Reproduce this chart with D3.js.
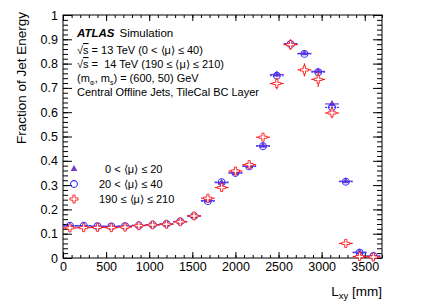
<!DOCTYPE html>
<html>
<head>
    <title>Fraction of Jet Energy vs Lxy</title>
    <script src="https://d3js.org/d3.v7.min.js"></script>
    <style>
        body { margin: 0; background: white; }
        svg text { font-family: "Liberation Sans", Arial, Helvetica, sans-serif; white-space: pre; }
    </style>
</head>
<body>
    <svg id="chart" width="425" height="305"></svg>

    <script>
        // bin centres in mm (bins are 160 mm wide)
        const binCenters = [80, 240, 400, 560, 720, 880, 1040, 1200, 1360, 1520, 1680, 1840,
                            2000, 2160, 2320, 2480, 2640, 2800, 2960, 3120, 3280, 3440, 3600];
        const binHalfWidth = 80;

        // 0 < <mu> <= 20
        const mu0to20 = [0.132, 0.132, 0.130, 0.130, 0.131, 0.134, 0.137, 0.140, 0.150, 0.173, 0.236, 0.310,
                         0.350, 0.378, 0.462, 0.755, 0.882, 0.842, 0.768, 0.634, 0.316, 0.024, 0.008];
        // 20 < <mu> <= 40
        const mu20to40 = [0.133, 0.133, 0.131, 0.130, 0.131, 0.134, 0.137, 0.140, 0.150, 0.173, 0.234, 0.312,
                          0.350, 0.377, 0.460, 0.750, 0.880, 0.840, 0.765, 0.620, 0.314, 0.022, 0.008];
        // 190 <= <mu> <= 210
        const mu190to210 = [0.124, 0.125, 0.126, 0.125, 0.127, 0.133, 0.136, 0.139, 0.149, 0.173, 0.246, 0.290,
                            0.358, 0.384, 0.497, 0.718, 0.878, 0.774, 0.735, 0.597, 0.060, 0.006, 0.004];
        const err190to210 = [0.004, 0.004, 0.004, 0.004, 0.004, 0.004, 0.004, 0.005, 0.005, 0.006, 0.008, 0.010,
                             0.012, 0.012, 0.016, 0.024, 0.022, 0.027, 0.030, 0.022, 0.010, 0.004, 0.003];
        const errLowMu = 0.003;

        const xTicks = [0, 500, 1000, 1500, 2000, 2500, 3000, 3500];
        const yTicks = [0, 0.1, 0.2, 0.3, 0.4, 0.5, 0.6, 0.7, 0.8, 0.9, 1];
        const xMinorTicks = d3.range(0, 3701, 100);
        const yMinorTicks = d3.range(0, 51).map(i => i / 50);

        const svg = d3.select("svg#chart");
        const margin = { top: 15, right: 43, bottom: 47, left: 63 };
        const width = +svg.attr("width") - margin.left - margin.right;
        const height = +svg.attr("height") - margin.top - margin.bottom;
        const g = svg.append("g").attr("transform", "translate(" + margin.left + "," + margin.top + ")");

        const x = d3.scaleLinear().domain([0, 3700]).range([0, width]);
        const y = d3.scaleLinear().domain([0, 1]).range([height, 0]);

        // ---- axes (ROOT style: ticks inside on all four sides) ----
        function styleAxis(sel) {
            sel.select(".domain").remove();
            sel.selectAll("line").attr("stroke", "black");
            sel.selectAll("text").style("font-size", "12.5px").attr("fill", "black");
        }

        g.append("g").attr("transform", "translate(0," + height + ")")
            .call(d3.axisBottom(x).tickValues(xMinorTicks).tickFormat("").tickSizeInner(-3).tickSizeOuter(0))
            .call(styleAxis);
        g.append("g").attr("transform", "translate(0," + height + ")")
            .call(d3.axisBottom(x).tickValues(xTicks).tickFormat(d3.format("d")).tickSizeInner(-6).tickSizeOuter(0).tickPadding(4))
            .call(styleAxis);
        g.append("g")
            .call(d3.axisTop(x).tickValues(xMinorTicks).tickFormat("").tickSizeInner(-3).tickSizeOuter(0))
            .call(styleAxis);
        g.append("g")
            .call(d3.axisTop(x).tickValues(xTicks).tickFormat("").tickSizeInner(-6).tickSizeOuter(0))
            .call(styleAxis);

        g.append("g")
            .call(d3.axisLeft(y).tickValues(yMinorTicks).tickFormat("").tickSizeInner(-5).tickSizeOuter(0))
            .call(styleAxis);
        g.append("g")
            .call(d3.axisLeft(y).tickValues(yTicks).tickFormat(d3.format("~g")).tickSizeInner(-9).tickSizeOuter(0).tickPadding(5))
            .call(styleAxis);
        g.append("g").attr("transform", "translate(" + width + ",0)")
            .call(d3.axisRight(y).tickValues(yMinorTicks).tickFormat("").tickSizeInner(-5).tickSizeOuter(0))
            .call(styleAxis);
        g.append("g").attr("transform", "translate(" + width + ",0)")
            .call(d3.axisRight(y).tickValues(yTicks).tickFormat("").tickSizeInner(-9).tickSizeOuter(0))
            .call(styleAxis);

        g.append("rect")
            .attr("width", width)
            .attr("height", height)
            .attr("fill", "none")
            .attr("stroke", "black")
            .attr("stroke-width", 1);

        // axis titles
        svg.append("text")
            .attr("transform", "translate(26," + (margin.top - 3) + ") rotate(-90)")
            .attr("text-anchor", "end")
            .style("font-size", "13.5px")
            .text("Fraction of Jet Energy");

        const xt = svg.append("text")
            .attr("x", margin.left + width)
            .attr("y", 296)
            .attr("text-anchor", "end")
            .style("font-size", "13.5px");
        xt.append("tspan").text("L");
        xt.append("tspan").attr("dy", 3).style("font-size", "9.5px").text("xy");
        xt.append("tspan").attr("dy", -3).text(" [mm]");

        // ---- markers ----
        const purple = "#7a3bc8";
        const blue = "#3535ff";
        const red = "#ff1a1a";

        function crossPath(s, a) {
            // open cross, arm half-length s, arm half-thickness a
            return `M${-a},${-s}H${a}V${-a}H${s}V${a}H${a}V${s}H${-a}V${a}H${-s}V${-a}H${-a}Z`;
        }
        const triangle = d3.symbol().type(d3.symbolTriangle).size(20)();

        function drawSeries(values, errs, color, dash, marker) {
            const data = binCenters.map((c, i) => ({ x: c, v: values[i], e: Array.isArray(errs) ? errs[i] : errs }));
            const s = g.append("g");
            s.selectAll(".hbar").data(data).join("line")
                .attr("x1", d => x(d.x - binHalfWidth))
                .attr("x2", d => x(d.x + binHalfWidth))
                .attr("y1", d => y(d.v))
                .attr("y2", d => y(d.v))
                .attr("stroke", color)
                .attr("stroke-width", 1.2)
                .attr("stroke-dasharray", dash);
            s.selectAll(".vbar").data(data).join("line")
                .attr("x1", d => x(d.x))
                .attr("x2", d => x(d.x))
                .attr("y1", d => y(d.v - d.e))
                .attr("y2", d => y(d.v + d.e))
                .attr("stroke", color)
                .attr("stroke-width", 1.2);
            s.selectAll(".mk").data(data).join(marker === "circle" ? "circle" : "path")
                .attr("transform", d => "translate(" + x(d.x) + "," + y(d.v) + ")")
                .each(function () {
                    const m = d3.select(this);
                    if (marker === "circle") {
                        m.attr("r", 3.4).attr("fill", "none").attr("stroke", color).attr("stroke-width", 1.1);
                    } else if (marker === "triangle") {
                        m.attr("d", triangle).attr("fill", color);
                    } else {
                        m.attr("d", crossPath(4, 1.1)).attr("fill", "white").attr("stroke", color).attr("stroke-width", 0.9);
                    }
                });
        }

        drawSeries(mu0to20, errLowMu, purple, null, "triangle");
        drawSeries(mu20to40, errLowMu, blue, "2,1", "circle");
        drawSeries(mu190to210, err190to210, red, null, "cross");

        // ---- labels ----
        const lx = 77;
        const atlas = svg.append("text").attr("x", lx).attr("y", 37).style("font-size", "11.5px");
        atlas.append("tspan").style("font-weight", "bold").style("font-style", "italic").text("ATLAS");
        atlas.append("tspan").attr("dx", 5).text("Simulation");

        function sqrtLine(yPos, rest) {
            const t = svg.append("text").attr("x", lx).attr("y", yPos).style("font-size", "11px");
            t.append("tspan").text("√");
            t.append("tspan").attr("text-decoration", "overline").text("s");
            t.append("tspan").text(rest);
        }
        sqrtLine(54, " = 13 TeV (0 < ⟨μ⟩ ≤ 40)");
        sqrtLine(68, " =  14 TeV (190 ≤ ⟨μ⟩ ≤ 210)");

        const mass = svg.append("text").attr("x", lx).attr("y", 82).style("font-size", "11px");
        mass.append("tspan").text("(m");
        mass.append("tspan").attr("dy", 3).style("font-size", "6px").text("Φ");
        mass.append("tspan").attr("dy", -3).text(", m");
        mass.append("tspan").attr("dy", 3).style("font-size", "7px").text("s");
        mass.append("tspan").attr("dy", -3).text(") = (600, 50) GeV");

        svg.append("text").attr("x", lx).attr("y", 96).style("font-size", "11px")
            .text("Central Offline Jets, TileCal BC Layer");

        // legend
        const legendLabels = ["  0 < ⟨μ⟩ ≤ 20", "20 < ⟨μ⟩ ≤ 40", "190 ≤ ⟨μ⟩ ≤ 210"];
        const legendColors = [purple, blue, red];
        const legendMarkers = ["triangle", "circle", "cross"];
        const legend = svg.selectAll(".legend").data(legendLabels).join("g")
            .attr("class", "legend")
            .attr("transform", (d, i) => "translate(74," + (169 + i * 15) + ")");
        legend.each(function (d, i) {
            const lg = d3.select(this);
            if (legendMarkers[i] === "triangle") {
                lg.append("path").attr("d", triangle).attr("fill", legendColors[i]);
            } else if (legendMarkers[i] === "circle") {
                lg.append("circle").attr("r", 3.4).attr("fill", "none").attr("stroke", legendColors[i]).attr("stroke-width", 1.1);
            } else {
                lg.append("path").attr("d", crossPath(4, 1.1)).attr("fill", "white").attr("stroke", legendColors[i]).attr("stroke-width", 0.9);
            }
            lg.append("text")
                .attr("x", 25)
                .attr("y", 4)
                .style("font-size", "11px")
                .text(d);
        });
    </script>
</body>
</html>
